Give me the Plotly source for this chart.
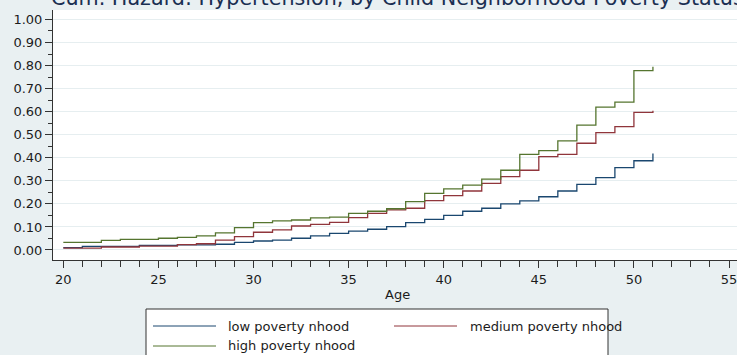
import plotly.graph_objects as go

# ---- data ----
blue_age = [20, 21, 24, 26, 28, 29, 30, 31, 32, 33, 34, 35, 36, 37, 38, 39, 40,
            41, 42, 43, 44, 45, 46, 47, 48, 49, 50, 51]
blue_val = [0.010, 0.016, 0.020, 0.022, 0.025, 0.033, 0.039, 0.043, 0.051, 0.061,
            0.072, 0.082, 0.090, 0.101, 0.119, 0.133, 0.150, 0.168, 0.181, 0.200,
            0.213, 0.231, 0.256, 0.285, 0.314, 0.357, 0.387, 0.419]

red_age = [20, 22, 24, 26, 27, 28, 29, 30, 31, 32, 33, 34, 35, 36, 37, 38, 39, 40,
           41, 42, 43, 44, 45, 46, 47, 48, 49, 50, 51]
red_val = [0.008, 0.013, 0.017, 0.023, 0.027, 0.043, 0.058, 0.077, 0.087, 0.104,
           0.111, 0.120, 0.140, 0.159, 0.174, 0.181, 0.214, 0.236, 0.256, 0.289,
           0.318, 0.346, 0.405, 0.415, 0.463, 0.509, 0.535, 0.597, 0.604]

green_age = [20, 22, 23, 25, 26, 27, 28, 29, 30, 31, 32, 33, 34, 35, 36, 37, 38, 39,
             40, 41, 42, 43, 44, 45, 46, 47, 48, 49, 50, 51]
green_val = [0.033, 0.042, 0.046, 0.051, 0.055, 0.061, 0.074, 0.097, 0.119, 0.126,
             0.130, 0.139, 0.143, 0.159, 0.168, 0.179, 0.210, 0.246, 0.265, 0.281,
             0.307, 0.346, 0.415, 0.431, 0.473, 0.542, 0.620, 0.641, 0.778, 0.795]

series_names = ["low poverty nhood", "medium poverty nhood", "high poverty nhood"]
series_colors = ["#1a476f", "#90353b", "#55752f"]

y_ticks = [0.0, 0.1, 0.2, 0.3, 0.4, 0.5, 0.6, 0.7, 0.8, 0.9, 1.0]
x_ticks = [20, 25, 30, 35, 40, 45, 50, 55]

title_text = "Cum. Hazard: Hypertension, by Child Neighborhood Poverty Status"
x_title = "Age"

# ---- geometry ----
W, H = 737, 355
ML, MR, MT, MB = 53, 0, 10, 95
PW, PH = W - ML - MR, H - MT - MB

def px_x(p):
    return (p - ML) / PW

def px_y(p):
    return (H - MB - p) / PH

FONT = "DejaVu Sans"
BG = "#e9f0f2"
TXT = "#1c1c1c"

fig = go.Figure()
for ages, vals, name, col in zip([blue_age, red_age, green_age],
                                 [blue_val, red_val, green_val],
                                 series_names, series_colors):
    fig.add_trace(go.Scatter(x=ages, y=vals, mode="lines", name=name,
                             line=dict(color=col, width=1.3, shape="hv"),
                             showlegend=False))

fig.update_layout(
    width=W, height=H,
    margin=dict(l=ML, r=MR, t=MT, b=MB, pad=0, autoexpand=False),
    paper_bgcolor=BG, plot_bgcolor="white",
    font=dict(family=FONT, size=13, color=TXT),
    showlegend=False,
)

fig.update_xaxes(
    range=[19.458, 55.42], tickvals=x_ticks, ticktext=[str(v) for v in x_ticks],
    ticks="outside", ticklen=7, tickwidth=1, tickcolor="#333",
    minor=dict(dtick=1, tick0=20, ticks="outside", ticklen=6, tickcolor="#333", showgrid=False),
    showline=True, linecolor="#333", linewidth=1, showgrid=False, zeroline=False,
    tickfont=dict(family=FONT, size=13, color=TXT),
    automargin=False, ticklabeloverflow="allow",
)
fig.update_yaxes(
    range=[-0.0434, 1.041], tickvals=y_ticks, ticktext=[f"{v:.2f}" for v in y_ticks],
    ticks="outside", ticklen=7, tickwidth=1, tickcolor="#333",
    minor=dict(dtick=0.05, tick0=0, ticks="outside", ticklen=4, tickcolor="#333", showgrid=False),
    showline=True, linecolor="#333", linewidth=1,
    showgrid=True, gridcolor="#e6eef0", gridwidth=1, zeroline=False,
    tickfont=dict(family=FONT, size=13, color=TXT),
    automargin=False, ticklabeloverflow="allow",
)

annotations = [
    dict(text=title_text, xref="paper", yref="paper", x=px_x(49), y=1.048,
         xanchor="left", yanchor="middle", showarrow=False,
         font=dict(family=FONT, size=20.7, color="#1a2f52")),
    dict(text=x_title, xref="paper", yref="paper", x=px_x(397), y=px_y(294),
         xanchor="center", yanchor="middle", showarrow=False,
         font=dict(family=FONT, size=13, color=TXT)),
]

# manual legend (Stata style box)
shapes = [dict(type="rect", xref="paper", yref="paper",
               x0=px_x(146), x1=px_x(608), y0=px_y(375), y1=px_y(309),
               line=dict(color="#333", width=1), fillcolor="white", layer="above")]
leg_pos = [(153, 216, 226, 326), (394, 457, 468, 326), (153, 216, 226, 346)]
for (lx0, lx1, tx, ly), name, col in zip(leg_pos, series_names, series_colors):
    shapes.append(dict(type="line", xref="paper", yref="paper",
                       x0=px_x(lx0), x1=px_x(lx1), y0=px_y(ly), y1=px_y(ly),
                       line=dict(color=col, width=1), layer="above"))
    annotations.append(dict(text=name, xref="paper", yref="paper", x=px_x(tx),
                            y=px_y(ly), xanchor="left", yanchor="middle",
                            showarrow=False, font=dict(family=FONT, size=13, color=TXT)))

fig.update_layout(shapes=shapes, annotations=annotations)

fig.write_html(
    "out.html",
    config={"displayModeBar": False},
    post_script="document.body.style.margin='0';document.body.style.overflow='hidden';",
)
